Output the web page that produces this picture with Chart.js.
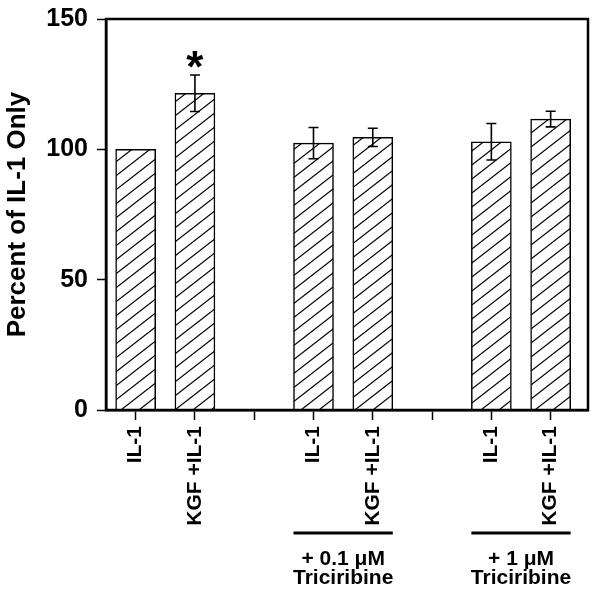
<!DOCTYPE html>
<html>
<head>
<meta charset="utf-8">
<script src="https://cdn.jsdelivr.net/npm/chart.js@4/dist/chart.umd.min.js"></script>
<style>
  body { margin: 0; background: #fff; }
  #wrap { width: 600px; height: 594px; }
</style>
</head>
<body>
<div id="wrap"><canvas id="percentChart" width="600" height="594"></canvas></div>
<script>
// ---- data ----
const xLabels = ['IL-1', 'KGF +IL-1', '', 'IL-1', 'KGF +IL-1', '', 'IL-1', 'KGF +IL-1'];
const barPositions = [0, 1, 3, 4, 6, 7];
const barMeans = [100, 121.5, 102.4, 104.6, 102.9, 111.6];
const barErrors = [0, 7, 6, 3.5, 7, 3];
const yTicks = [0, 50, 100, 150];
const groups = [
    { from: 3, to: 4, lines: ['+ 0.1 \u03bcM', 'Triciribine'] },
    { from: 6, to: 7, lines: ['+ 1 \u03bcM', 'Triciribine'] }
];
const starAt = 1; // significant bar (KGF +IL-1)

const FONT = '"Liberation Sans", Arial, sans-serif';

// diagonal hatch fill
function makeHatch() {
    const w = 18, h = 14;
    const c = document.createElement('canvas');
    c.width = w; c.height = h;
    const g = c.getContext('2d');
    g.fillStyle = '#fff';
    g.fillRect(0, 0, w, h);
    g.strokeStyle = '#000';
    g.lineWidth = 1.2;
    for (let k = -1; k <= 1; k++) {
        g.beginPath();
        g.moveTo(-w + k * w, 2 * h);
        g.lineTo(2 * w + k * w, -h);
        g.stroke();
    }
    return g.createPattern(c, 'repeat');
}

// error bars with caps
const errorBarPlugin = {
    id: 'errorBars',
    afterDatasetsDraw(chart) {
        const ctx = chart.ctx;
        const y = chart.scales.y;
        const meta = chart.getDatasetMeta(0);
        ctx.save();
        ctx.strokeStyle = '#000';
        ctx.lineWidth = 1.6;
        meta.data.forEach((bar, i) => {
            const e = barErrors[i];
            if (!e) return;
            const top = y.getPixelForValue(barMeans[i] + e);
            const bot = y.getPixelForValue(barMeans[i] - e);
            const cap = 5;
            ctx.beginPath();
            ctx.moveTo(bar.x, top); ctx.lineTo(bar.x, bot);
            ctx.moveTo(bar.x - cap, top); ctx.lineTo(bar.x + cap, top);
            ctx.moveTo(bar.x - cap, bot); ctx.lineTo(bar.x + cap, bot);
            ctx.stroke();
        });
        // significance star
        const sx = chart.scales.x.getPixelForValue(starAt);
        const sy = y.getPixelForValue(barMeans[starAt] + barErrors[starAt]);
        ctx.fillStyle = '#000';
        ctx.font = 'bold 44px ' + FONT;
        ctx.textAlign = 'center';
        ctx.textBaseline = 'alphabetic';
        ctx.fillText('*', sx, sy + 7);
        ctx.restore();
    }
};

// box frame + treatment group brackets below the axis
const framePlugin = {
    id: 'frameAndGroups',
    afterDraw(chart) {
        const ctx = chart.ctx;
        const a = chart.chartArea;
        const x = chart.scales.x;
        ctx.save();
        ctx.strokeStyle = '#000';
        ctx.lineWidth = 2.5;
        ctx.strokeRect(a.left, a.top, a.right - a.left, a.bottom - a.top);

        ctx.fillStyle = '#000';
        ctx.textAlign = 'center';
        ctx.textBaseline = 'alphabetic';
        ctx.font = 'bold 21px ' + FONT;
        groups.forEach(gr => {
            const x1 = x.getPixelForValue(gr.from) - 20;
            const x2 = x.getPixelForValue(gr.to) + 20;
            const lineY = a.bottom + 123;
            ctx.lineWidth = 3;
            ctx.beginPath();
            ctx.moveTo(x1, lineY); ctx.lineTo(x2, lineY);
            ctx.stroke();
            const cx = (x1 + x2) / 2;
            ctx.fillText(gr.lines[0], cx, a.bottom + 155);
            ctx.fillText(gr.lines[1], cx, a.bottom + 174);
        });
        ctx.restore();
    }
};

document.addEventListener('DOMContentLoaded', function () {
    const ctx = document.getElementById('percentChart').getContext('2d');

    new Chart(ctx, {
        type: 'bar',
        data: {
            datasets: [{
                data: barPositions.map((p, i) => ({ x: p, y: barMeans[i] })),
                backgroundColor: makeHatch(),
                borderColor: '#000',
                borderWidth: 1.5,
                barThickness: 40
            }]
        },
        options: {
            responsive: false,
            animation: false,
            devicePixelRatio: 1,
            layout: { padding: { top: 19, right: 12, left: 0, bottom: 0 } },
            plugins: { legend: { display: false }, tooltip: { enabled: false } },
            scales: {
                x: {
                    type: 'linear',
                    min: -0.5,
                    max: 7.63,
                    offset: false,
                    afterBuildTicks: s => { s.ticks = xLabels.map((_, i) => ({ value: i })); },
                    afterFit: s => { s.height = 184; },
                    grid: { offset: false, drawOnChartArea: false, tickLength: 10, tickColor: '#000', tickWidth: 1.5 },
                    border: { color: '#000', width: 2.5 },
                    ticks: {
                        autoSkip: false,
                        minRotation: 90,
                        maxRotation: 90,
                        padding: 6,
                        color: '#000',
                        font: { family: FONT, size: 21, weight: 'bold', lineHeight: 1 },
                        callback: v => xLabels[v] || ''
                    }
                },
                y: {
                    min: 0,
                    max: 150,
                    afterBuildTicks: s => { s.ticks = yTicks.map(v => ({ value: v })); },
                    afterFit: s => { s.width = 106; s.paddingTop = 0; s.paddingBottom = 0; },
                    grid: { drawOnChartArea: false, tickLength: 9, tickColor: '#000', tickWidth: 1.5 },
                    border: { color: '#000', width: 2.5 },
                    ticks: {
                        padding: 9,
                        color: '#000',
                        font: { family: FONT, size: 25, weight: 'bold', lineHeight: 1 }
                    },
                    title: {
                        display: true,
                        text: 'Percent of IL-1 Only',
                        color: '#000',
                        font: { family: FONT, size: 26, weight: 'bold' },
                        padding: { top: 2, bottom: 0 }
                    }
                }
            }
        },
        plugins: [errorBarPlugin, framePlugin]
    });
});
</script>
</body>
</html>
